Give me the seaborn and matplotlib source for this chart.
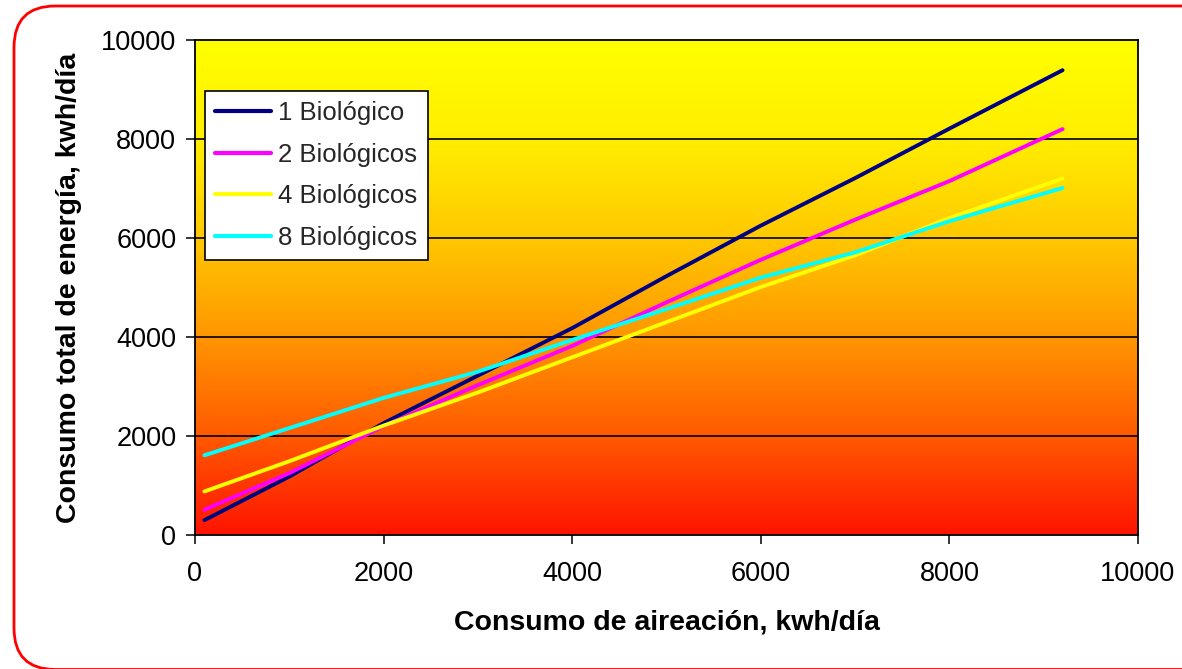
import numpy as np
import pandas as pd
import matplotlib
matplotlib.use("Agg")
import matplotlib.pyplot as plt
from matplotlib.colors import LinearSegmentedColormap
from matplotlib.patches import FancyBboxPatch
import seaborn as sns

# ---- data ----
aireacion = [100, 1000, 2000, 3000, 4000, 5000, 6000, 7000, 8000, 9200]
bio1 = [300, 1180, 2260, 3220, 4180, 5230, 6250, 7210, 8210, 9390]
bio2 = [510, 1250, 2200, 3030, 3820, 4700, 5560, 6370, 7150, 8200]
bio4 = [880, 1490, 2210, 2880, 3590, 4300, 5010, 5650, 6400, 7200]
bio8 = [1610, 2160, 2770, 3300, 3940, 4565, 5200, 5710, 6340, 7010]
series_names = ["1 Biológico", "2 Biológicos", "4 Biológicos", "8 Biológicos"]
series_colors = ["#000080", "#FF00FF", "#FFFF00", "#00FFFF"]
x_ticks = [0, 2000, 4000, 6000, 8000, 10000]
y_ticks = [0, 2000, 4000, 6000, 8000, 10000]

df = pd.DataFrame({
    "x": aireacion * 4,
    "y": bio1 + bio2 + bio4 + bio8,
    "serie": sum([[n] * len(aireacion) for n in series_names], []),
})

sns.set_theme(style="white")
plt.rcParams["font.family"] = ["Liberation Sans", "DejaVu Sans"]

fig = plt.figure(figsize=(11.82, 6.69), dpi=100)
ax = fig.add_axes([195 / 1182, 1 - 535 / 669, (1138 - 195) / 1182, (535 - 40) / 669])

# gradient background (yellow top -> red bottom)
cmap = LinearSegmentedColormap.from_list(
    "yr", [(0.0, "#FF1400"), (0.2, "#FF5A00"), (0.4, "#FF9600"),
           (0.6, "#FFC800"), (0.8, "#FFEE00"), (1.0, "#FFFF00")])
grad = np.linspace(0, 1, 256).reshape(-1, 1)
ax.imshow(grad, extent=[0, 10000, 0, 10000], origin="lower", aspect="auto",
          cmap=cmap, zorder=0)

sns.lineplot(data=df, x="x", y="y", hue="serie", palette=series_colors,
             hue_order=series_names, linewidth=2.8, ax=ax, zorder=3,
             legend=True)

ax.set_xlim(0, 10000)
ax.set_ylim(0, 10000)
ax.set_xticks(x_ticks)
ax.set_yticks(y_ticks)
ax.set_xticklabels([str(t) for t in x_ticks])
ax.set_yticklabels([str(t) for t in y_ticks])
for yv in y_ticks[1:-1]:
    ax.axhline(yv, color="black", lw=1.2, zorder=2)

for s in ax.spines.values():
    s.set_color("black")
    s.set_linewidth(1.3)
    s.set_visible(True)
ax.tick_params(axis="both", direction="out", length=6.5, width=1.1,
               color="black", labelsize=19.5, labelcolor="black")
ax.tick_params(axis="x", pad=12, bottom=True)
ax.tick_params(axis="y", pad=7, left=True)

ax.set_xlabel("Consumo de aireación, kwh/día", fontsize=20.5, fontweight="bold",
              color="black")
ax.set_ylabel("Consumo total de energía, kwh/día", fontsize=20.5,
              fontweight="bold", color="black")
ax.yaxis.set_label_coords(-0.12, 0.5)
ax.xaxis.set_label_coords(0.5, -0.15)

handles, labels = ax.get_legend_handles_labels()
leg = ax.legend(handles, labels, loc="upper left",
                bbox_to_anchor=(10 / 943, (535 - 91) / 495),
                fontsize=18.5, frameon=True, fancybox=False, framealpha=1,
                edgecolor="black", facecolor="white", handlelength=2.15,
                handletextpad=0.3, borderpad=0.4, labelspacing=0.68,
                borderaxespad=0)
leg.get_frame().set_linewidth(1.2)
for h in leg.get_lines():
    h.set_linewidth(3)

# red rounded outer frame
frame = FancyBboxPatch((14 / 1182, -0.5 / 669), 1.2, (669 - 5.5) / 669,
                       boxstyle="round,pad=0,rounding_size=0.035",
                       transform=fig.transFigure, fill=False,
                       edgecolor="#FF0000", lw=2, mutation_aspect=1182 / 669)
fig.patches.append(frame)

fig.savefig("out.png", dpi=100)
